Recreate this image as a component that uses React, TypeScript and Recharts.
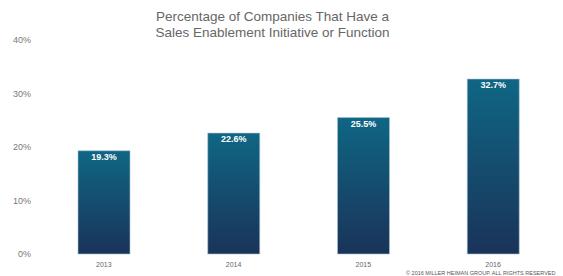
import { Bar, BarChart, LabelList, XAxis, YAxis } from "recharts";

const years = ["2013", "2014", "2015", "2016"];
const shares = [19.3, 22.6, 25.5, 32.7];
const yTicks = [0, 10, 20, 30, 40];

const data = years.map((year, i) => ({ year, share: shares[i] }));

const App = () => {
	return (
		<div style={{ position: "absolute", left: 0, top: 0, width: 563, height: 276, overflow: "hidden", fontFamily: "'Liberation Sans', Arial, sans-serif", background: "#fff" }}>
			<div
				style={{
					position: "absolute",
					left: 0,
					top: 9,
					width: 545,
					textAlign: "center",
					fontSize: 13.5,
					lineHeight: "16px",
					color: "#666",
				}}
			>
				Percentage of Companies That Have a
				<br />
				Sales Enablement Initiative or Function
			</div>
			<BarChart width={563} height={276} data={data} margin={{ top: 40, right: 5, left: 0, bottom: 0 }} barSize={52}>
				<defs>
					<linearGradient id="barFill" x1="0" y1="0" x2="0" y2="1">
						<stop offset="0%" stopColor="#0f6684" />
						<stop offset="100%" stopColor="#1a3359" />
					</linearGradient>
				</defs>
				<XAxis
					dataKey="year"
					height={22}
					axisLine={false}
					tickLine={false}
					tickMargin={2}
					tick={{ fontSize: 7, fill: "#666" }}
				/>
				<YAxis
					width={39}
					domain={[0, 40]}
					ticks={yTicks}
					tickFormatter={(v) => `${v}%`}
					axisLine={false}
					tickLine={false}
					tick={{ fontSize: 9, fill: "#777" }}
				/>
				<Bar dataKey="share" fill="url(#barFill)" stroke="#a9c3d1" strokeWidth={0.6} isAnimationActive={false}>
					<LabelList
						dataKey="share"
						position="insideTop"
						offset={3}
						formatter={(v) => `${v}%`}
						style={{ fill: "#fff", fontSize: 9, fontWeight: "bold" }}
					/>
				</Bar>
			</BarChart>
			<div
				style={{
					position: "absolute",
					left: 406,
					top: 270,
					fontSize: 5.5,
					color: "#555",
					whiteSpace: "nowrap",
					lineHeight: "6px",
				}}
			>
				© 2016 MILLER HEIMAN GROUP. ALL RIGHTS RESERVED
			</div>
		</div>
	);
};

export default App;
